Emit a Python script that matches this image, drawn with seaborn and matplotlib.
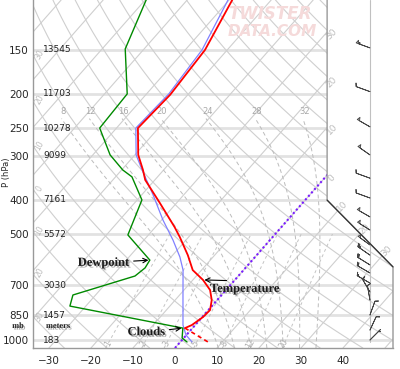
import numpy as np
import pandas as pd
import matplotlib
matplotlib.use("Agg")
import matplotlib.pyplot as plt
import matplotlib.patheffects as pe
from matplotlib.patches import Polygon
from matplotlib.path import Path
from matplotlib.ticker import NullLocator, FixedLocator
import seaborn as sns

# ---------------- data ----------------
temp_pres = [108, 150, 201, 250, 298, 329, 351, 408, 478, 510, 574, 633, 675, 721, 770, 822, 860, 907, 925]
temp = [-59.3, -55.3, -54.2, -54.9, -49.2, -44.9, -42.3, -34.0, -25.4, -22.1, -16.4, -12.1, -7.6, -3.8,
        -1.3, 0.4, 0.2, -0.8, -1.8]
sfc_pres = [925, 1013]
sfc_temp = [-1.8, 6.6]
wb_pres = [108, 150, 200, 250, 298, 329, 387, 456, 520, 581, 633, 745, 907, 968, 1013]
wetbulb = [-60.3, -56.0, -54.7, -55.4, -49.7, -45.1, -37.3, -29.7, -23.1, -17.9, -14.4, -9.2, -2.9, -0.1, 2.8]
dew_pres = [108, 149, 200, 250, 298, 329, 344, 400, 503, 593, 624, 658, 745, 801, 925, 987, 1013]
dewpt = [-79.8, -74.5, -64.6, -64.0, -55.9, -49.7, -46.1, -38.9, -34.9, -24.4, -23.9, -24.6, -35.4,
         -33.8, -2.3, -0.4, 1.6]

levels = [150, 200, 250, 300, 400, 500, 700, 850, 1000]
level_labels = ["150", "200", "250", "300", "400", "500", "700", "850", "1000"]
heights = ["13545", "11703", "10278", "9099", "7161", "5572", "3030", "1457", "183"]
xticks = [-30, -20, -10, 0, 10, 20, 30, 40]

wind_pres = [148, 197, 248, 298, 347, 395, 447, 487, 537, 574, 612, 645, 689, 731, 770, 849, 937, 1000]
wind_dir = [290, 290, 300, 305, 290, 290, 300, 302, 306, 305, 302, 300, 300, 330, 350, 20, 25, 45]
wind_spd = [55, 10, 50, 50, 10, 10, 50, 50, 50, 25, 20, 20, 15, 15, 10, 10, 10, 5]

theta_w = [8, 12, 16, 20, 24, 28, 32]
mix_ratios = [1, 2, 3, 5, 8, 12, 20]

# ---------------- frame ----------------
P_TOP, P_BOT = 108.2, 1053.7
X_LEFT, X_RIGHT = -33.8, 51.9
SKEW = 32.03
CLIP = [(0, 0), (1, 0), (1, 0.233), (0.817, 0.425), (0.817, 1), (0, 1)]


def skew_x(t, p):
    return np.asarray(t, float) + SKEW * np.log(P_BOT / np.asarray(p, float))


sns.set_style("white")
plt.rcParams['font.family'] = ['DejaVu Sans']

fig = plt.figure(figsize=(4.0, 3.69), dpi=100)
ax = fig.add_axes([33 / 400, 21 / 369, 360 / 400, 348 / 369])
ax.set_yscale('log')
ax.set_ylim(P_BOT, P_TOP)
ax.set_xlim(X_LEFT, X_RIGHT)

clip = Polygon(CLIP, closed=True, transform=ax.transAxes)
clip_path = Path(CLIP)

pp = np.geomspace(P_BOT, P_TOP, 200)
grid_c = '#cfcfcf'


def to_axes(x, p):
    xa = (np.asarray(x) - X_LEFT) / (X_RIGHT - X_LEFT)
    ya = np.log(P_BOT / np.asarray(p)) / np.log(P_BOT / P_TOP)
    return xa, ya


# isobars
for lv in levels:
    l = ax.axhline(lv, color='#e2e2e2', lw=2.0, zorder=0.5)
    l.set_clip_path(clip)

# isotherms
for t in range(-120, 60, 10):
    x = skew_x(np.full_like(pp, t), pp)
    l, = ax.plot(x, pp, color=grid_c, lw=0.8, zorder=1)
    l.set_clip_path(clip)
    xa, ya = to_axes(x, pp)
    inside = clip_path.contains_points(np.column_stack([xa, ya]), radius=1e-9)
    idx = np.where(inside)[0]
    if len(idx) and idx[-1] < len(pp) - 1 and 0.8 < xa[idx[-1]] < 0.99:
        j = idx[-1]
        off = (4, -1) if ya[j] > 0.43 else (4, 4)
        ax.annotate(str(abs(t)), xy=(xa[j], ya[j]), xycoords='axes fraction', xytext=off,
                    textcoords='offset points', rotation=45, ha='center', va='center',
                    fontsize=6.5, color='#bdbdbd')

# dry adiabats
for th in range(-50, 190, 10):
    t = (th + 273.15) * (pp / 1000.0) ** 0.2857 - 273.15
    x = skew_x(t, pp)
    l, = ax.plot(x, pp, color=grid_c, lw=0.8, zorder=1)
    l.set_clip_path(clip)
    xa, ya = to_axes(x, pp)
    k = np.where(xa < 0)[0]
    if len(k) and -40 <= th <= 40:
        j = k[0]
        if 0.02 < ya[j] < 0.97:
            ax.text(0.018, ya[j], str(abs(th)), transform=ax.transAxes, rotation=60,
                    ha='center', va='center', fontsize=5.5, color='#bdbdbd')

# moist adiabats
Rd, Cp, Lv, eps = 287.04, 1005.7, 2.501e6, 0.622


def dTdp(T, p):
    es = 6.112 * np.exp(17.67 * (T - 273.15) / (T - 29.65))
    rs = eps * es / (p - es)
    return (Rd * T + Lv * rs) / (p * (Cp + Lv * Lv * rs * eps / (Rd * T * T)))


for tw in theta_w:
    up_p = np.arange(1000.0, 234.0, -1.0)
    T = tw + 273.15
    up_t = []
    for p in up_p:
        up_t.append(T)
        T += dTdp(T, p) * (-1.0)
    dn_p = np.arange(1000.0, P_BOT + 1, 1.0)
    T = tw + 273.15
    dn_t = []
    for p in dn_p:
        dn_t.append(T)
        T += dTdp(T, p) * 1.0
    ps = np.concatenate([dn_p[::-1], up_p[1:]])
    ts = np.concatenate([dn_t[::-1], up_t[1:]]) - 273.15
    x = skew_x(ts, ps)
    l, = ax.plot(x, ps, color='#bcbcbc', lw=0.7, ls=(0, (4, 3)), zorder=1)
    l.set_clip_path(clip)
    ax.text(x[-1] + 0.3, 224, str(tw), ha='center', va='center', fontsize=6, color='#a8a8a8')

# mixing ratio lines
pm = np.geomspace(P_BOT, 500, 60)
for w in mix_ratios:
    e = (w / 1000.0) * pm / (eps + w / 1000.0)
    lg = np.log(e / 6.112)
    td = 243.5 * lg / (17.67 - lg)
    x = skew_x(td, pm)
    l, = ax.plot(x, pm, color='#c4c4c4', lw=0.7, ls=(0, (3, 3)), zorder=1)
    l.set_clip_path(clip)
    ax.text(x[2], 1027, str(w), ha='center', va='center', rotation=60, fontsize=5.5, color='#b0b0b0')

# freezing isotherm
fz, = ax.plot(skew_x(np.zeros_like(pp), pp), pp, color='#7a1cff', lw=1.5, ls=(0, (1, 1.2)), zorder=4)
fz.set_clip_path(clip)

# ---------------- sounding ----------------
df_t = pd.DataFrame({'p': temp_pres, 'T': temp})
df_t['x'] = skew_x(df_t['T'], df_t['p'])
df_s = pd.DataFrame({'p': sfc_pres, 'T': sfc_temp})
df_s['x'] = skew_x(df_s['T'], df_s['p'])
df_w = pd.DataFrame({'p': wb_pres, 'T': wetbulb})
df_w['x'] = skew_x(df_w['T'], df_w['p'])
df_d = pd.DataFrame({'p': dew_pres, 'T': dewpt})
df_d['x'] = skew_x(df_d['T'], df_d['p'])

sns.lineplot(data=df_w, x='x', y='p', sort=False, estimator=None, color='#8080ff', lw=0.9, ax=ax, zorder=5)
sns.lineplot(data=df_d, x='x', y='p', sort=False, estimator=None, color='#008a00', lw=1.0, ax=ax, zorder=6)
sns.lineplot(data=df_t, x='x', y='p', sort=False, estimator=None, color='#ff0000', lw=1.3, ax=ax, zorder=7)
sns.lineplot(data=df_s, x='x', y='p', sort=False, estimator=None, color='#ff0000', lw=1.2,
             ls=(0, (2.5, 2)), ax=ax, zorder=7)

# ---------------- wind barbs ----------------
XB = X_LEFT + 0.936 * (X_RIGHT - X_LEFT)
ax.plot([XB, XB], [P_TOP, 1010], color='#c0c0c0', lw=0.8, zorder=2)
wd = np.deg2rad(np.array(wind_dir, float))
ws = np.array(wind_spd, float)
u = -ws * np.sin(wd)
v = -ws * np.cos(wd)
ax.barbs(np.full(len(wind_pres), XB), wind_pres, u, v, length=4.6, lw=0.6,
         barbcolor='#444444', flagcolor='#aaaaaa',
         sizes=dict(emptybarb=0, height=0.22, width=0.18, spacing=0.09),
         zorder=8, clip_on=False)

# frame outline
ax.plot([1, 1, 0.817, 0.817], [0, 0.233, 0.425, 1], transform=ax.transAxes, color='#999999', lw=1.0,
        zorder=9, clip_on=False)
ax.plot([1, 0.817], [0.233, 0.425], transform=ax.transAxes, color='#333333', lw=0.9, zorder=9, clip_on=False)
for s in ['top', 'right']:
    ax.spines[s].set_visible(False)
for s in ['left', 'bottom']:
    ax.spines[s].set_color('#999999')
    ax.spines[s].set_linewidth(1.0)

# ticks
ax.yaxis.set_minor_locator(NullLocator())
ax.yaxis.set_major_locator(FixedLocator(levels))
ax.set_yticklabels(level_labels)
ax.set_xticks(xticks)
ax.set_xticklabels([str(t) if t >= 0 else '\u2212' + str(-t) for t in xticks])
ax.tick_params(axis='y', direction='in', length=7, color='#999999', labelsize=7.5, pad=3)
ax.tick_params(axis='x', direction='out', length=4, color='#999999', labelsize=7.5, pad=1.5)
ax.set_xlabel('')
ax.set_ylabel('')
fig.text(7 / 400, 1 - 172 / 369, 'P (hPa)', rotation=90, ha='center', va='center', fontsize=6)

# heights
for lv, h in zip(levels, heights):
    ax.text(0.028, lv, h, transform=ax.get_yaxis_transform(), ha='left', va='center', fontsize=6.5,
            color='#222222')

shadow = [pe.SimplePatchShadow(offset=(1.2, -1.2), shadow_rgbFace='#777777', alpha=0.6), pe.Normal()]
fig.text(18 / 400, 1 - 326 / 369, 'mb', ha='center', va='center', fontsize=6, fontweight='bold',
         family='Liberation Serif', path_effects=shadow)
fig.text(58 / 400, 1 - 326 / 369, 'meters', ha='center', va='center', fontsize=6, fontweight='bold',
         family='Liberation Serif', path_effects=shadow)

# annotations
afont = dict(fontsize=9, fontweight='bold', family='Liberation Serif', color='#1a1a1a', path_effects=shadow)
aprops = dict(arrowstyle='->', color='black', lw=0.8, shrinkA=1, shrinkB=1, mutation_scale=8)
i = dew_pres.index(593)
ax.annotate('Dewpoint', xy=(skew_x(dewpt[i], dew_pres[i]), dew_pres[i]), xytext=(-15, -2),
            textcoords='offset points', ha='right', va='center', arrowprops=aprops, zorder=10, **afont)
j = temp_pres.index(675)
tx = (skew_x(temp[j], temp_pres[j]), temp_pres[j])
ax.annotate('Temperature', xy=tx, xytext=(30, -6.5), textcoords='offset points', ha='center', va='center',
            zorder=10, **afont)
ax.annotate('', xy=tx, xytext=(18, -0.5), textcoords='offset points', arrowprops=aprops, zorder=10)
k = dew_pres.index(925)
ax.annotate('Clouds', xy=(skew_x(dewpt[k], dew_pres[k]), dew_pres[k]), xytext=(-13, -3),
            textcoords='offset points', ha='right', va='center', arrowprops=aprops, zorder=10, **afont)

# watermark
fig.text(270 / 400, 1 - 14 / 369, 'TWISTER', ha='center', va='center', fontsize=12, fontweight='bold',
         fontstyle='italic', color='#f5dada', zorder=0)
fig.text(272 / 400, 1 - 32 / 369, 'DATA.COM', ha='center', va='center', fontsize=11, fontweight='bold',
         fontstyle='italic', color='#f5dada', zorder=0)

fig.savefig('out.png', dpi=100)
